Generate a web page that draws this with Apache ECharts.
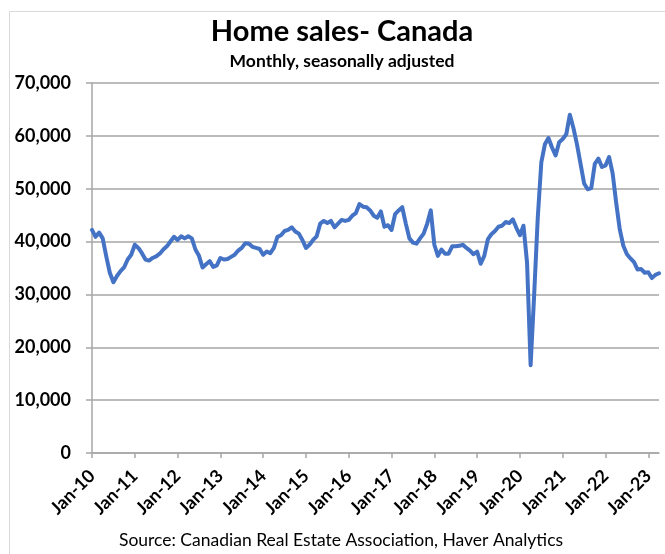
<!DOCTYPE html>
<html>
<head>
<meta charset="utf-8">
<script src="https://cdn.jsdelivr.net/npm/echarts@6/dist/echarts.min.js"></script>
<style>
html,body{margin:0;padding:0;background:#fff;}
#chart{width:665px;height:554px;}
</style>
</head>
<body>
<div id="chart"></div>
<script>
const titleText = 'Home sales- Canada';
const subtitleText = 'Monthly, seasonally adjusted';
const sourceText = 'Source: Canadian Real Estate Association, Haver Analytics';

const monthNames = ['Jan','Feb','Mar','Apr','May','Jun','Jul','Aug','Sep','Oct','Nov','Dec'];
const yearLabels = ['10','11','12','13','14','15','16','17','18','19','20','21','22','23'];

// Monthly home sales, Jan-10 .. Apr-23
const sales2010 = [42200, 40900, 41700, 40600, 37200, 34100, 32300, 33500, 34400, 35100, 36600, 37500];
const sales2011 = [39400, 38800, 37800, 36600, 36400, 36900, 37200, 37700, 38500, 39100, 40000, 40900];
const sales2012 = [40300, 41000, 40600, 41000, 40600, 38500, 37300, 35100, 35700, 36300, 35200, 35500];
const sales2013 = [36900, 36600, 36700, 37100, 37500, 38300, 38800, 39700, 39600, 39000, 38800, 38600];
const sales2014 = [37500, 38100, 37800, 38800, 40900, 41200, 42000, 42200, 42700, 41900, 41500, 40300];
const sales2015 = [38800, 39400, 40300, 41000, 43400, 43900, 43500, 43900, 42700, 43400, 44100, 43900];
const sales2016 = [44100, 44900, 45400, 47100, 46600, 46500, 45900, 44900, 44500, 45700, 42800, 43100];
const sales2017 = [42200, 45200, 45900, 46500, 43400, 40600, 39800, 39600, 40600, 41500, 43400, 45900];
const sales2018 = [39400, 37300, 38500, 37700, 37700, 39100, 39100, 39200, 39400, 38800, 38300, 37600];
const sales2019 = [38100, 35800, 37300, 40400, 41400, 42000, 42800, 43000, 43700, 43500, 44200, 42600];
const sales2020 = [41200, 43000, 36000, 16600, 30000, 44500, 55000, 58400, 59600, 57800, 56300, 58800];
const sales2021 = [59400, 60300, 64000, 61500, 58400, 54700, 51000, 49900, 50100, 54700, 55700, 54100];
const sales2022 = [54400, 56000, 52900, 47300, 42300, 39200, 37600, 36800, 36100, 34700, 34800, 34100];
const sales2023 = [34200, 33100, 33700, 34000];

const sales = [].concat(sales2010, sales2011, sales2012, sales2013, sales2014, sales2015, sales2016,
  sales2017, sales2018, sales2019, sales2020, sales2021, sales2022, sales2023);

const categories = [];
for (let yi = 0; yi < yearLabels.length; yi++) {
  for (let mi = 0; mi < 12; mi++) {
    if (categories.length < sales.length) categories.push(monthNames[mi] + '-' + yearLabels[yi]);
  }
}

const FONT = 'Lato, "Open Sans", sans-serif';
const chart = echarts.init(document.getElementById('chart'), null, {renderer: 'canvas'});
chart.setOption({
  animation: false,
  backgroundColor: '#ffffff',
  grid: {left: 92, right: 6, top: 83, bottom: 101, containLabel: false},
  graphic: [
    {type: 'rect', left: 7, top: 9, shape: {width: 700, height: 600}, style: {fill: 'none', stroke: '#d9d9d9', lineWidth: 1}, silent: true},
    {type: 'text', x: 342, y: 32, style: {text: titleText, font: 'bold 29px ' + FONT, fill: '#000', align: 'center', verticalAlign: 'middle'}},
    {type: 'text', x: 342, y: 61, style: {text: subtitleText, font: 'bold 17.5px ' + FONT, fill: '#000', align: 'center', verticalAlign: 'middle'}},
    {type: 'text', x: 341, y: 540, style: {text: sourceText, font: '17.5px ' + FONT, fill: '#000', align: 'center', verticalAlign: 'middle'}}
  ],
  xAxis: {
    type: 'category',
    data: categories,
    boundaryGap: false,
    axisLine: {show: true, lineStyle: {color: '#a6a6a6', width: 1.5}},
    axisTick: {show: true, interval: 11, length: 5, lineStyle: {color: '#a6a6a6', width: 1.5}},
    axisLabel: {interval: 11, rotate: 45, margin: 20, fontFamily: FONT, fontWeight: 'bold', fontSize: 18, color: '#000'},
    splitLine: {show: false}
  },
  yAxis: {
    type: 'value',
    min: 0, max: 70000, interval: 10000,
    axisLine: {show: true, lineStyle: {color: '#a6a6a6', width: 1.5}},
    axisTick: {show: true, length: 6, lineStyle: {color: '#a6a6a6', width: 1.5}},
    axisLabel: {margin: 21, fontFamily: FONT, fontWeight: 'bold', fontSize: 18, color: '#000',
      formatter: v => v.toLocaleString('en-US')},
    splitLine: {show: true, lineStyle: {color: '#a6a6a6', width: 1.5}}
  },
  series: [{
    type: 'line',
    data: sales,
    showSymbol: false,
    symbol: 'none',
    lineStyle: {color: '#4472c4', width: 4, cap: 'round', join: 'round'},
    itemStyle: {color: '#4472c4'}
  }]
});
</script>
</body>
</html>
